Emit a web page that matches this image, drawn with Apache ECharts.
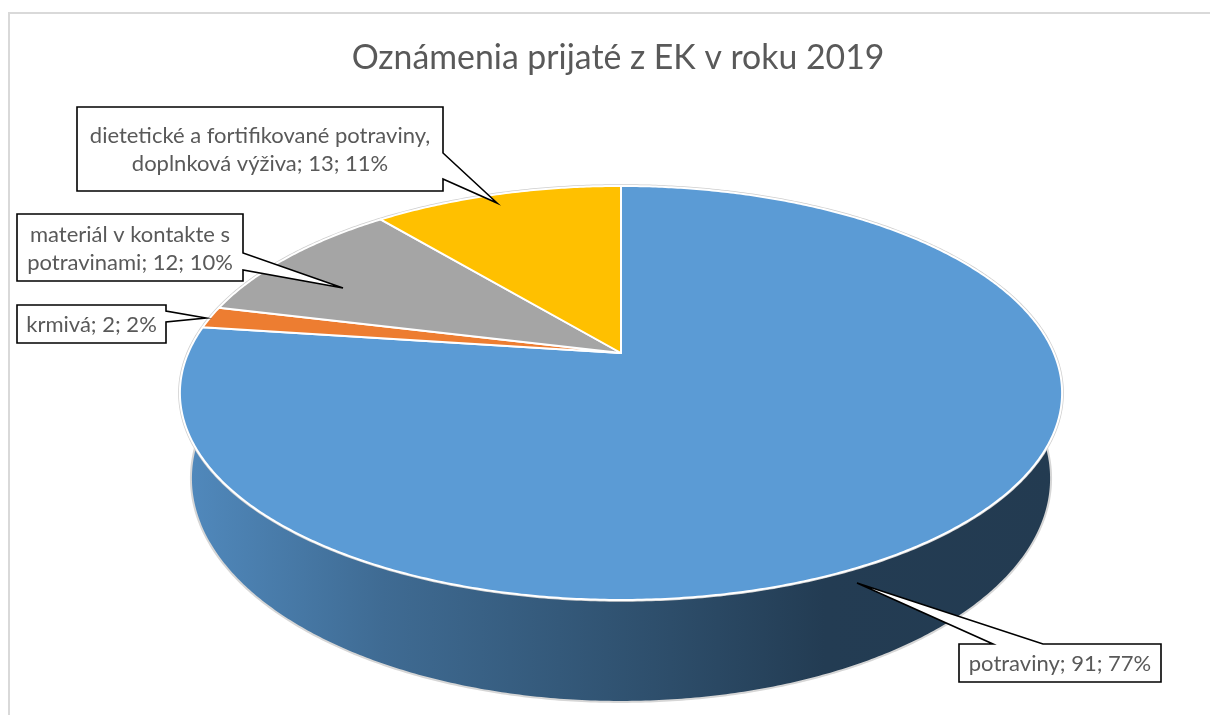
<!DOCTYPE html>
<html>
<head>
<meta charset="utf-8">
<title>Oznámenia prijaté z EK v roku 2019</title>
<script src="https://cdn.jsdelivr.net/npm/echarts@6/dist/echarts.min.js"></script>
<style>
  html, body { margin: 0; padding: 0; background: #ffffff; }
  #chart { width: 1210px; height: 715px; }
</style>
</head>
<body>
<div id="chart"></div>
<script>
// ---- data ----
const titleText = 'Oznámenia prijaté z EK v roku 2019';
const categories = [
  'potraviny',
  'krmivá',
  'materiál v kontakte s potravinami',
  'dietetické a fortifikované potraviny, doplnková výživa'
];
const counts = [91, 2, 12, 13];
const sliceColors = ['#5b9bd5', '#ed7d31', '#a5a5a5', '#ffc000'];

// ---- layout of the tilted pie (perspective disc) ----
const GEOM = {
  cx: 621, cy: 353,      // projected centre of the top face
  rx: 432.8, ry: 199.3,  // radii before perspective
  k: 0.193,              // perspective strength (far side shrinks)
  depth: 82.3,           // thickness of the disc
  bottomScale: 0.975     // lower rim is slightly narrower
};
const FONT_FAMILY = 'Lato, "Open Sans", sans-serif';
const LABEL_SIZE = 22;
const TEXT_COLOR = '#595959';

// callout boxes: [x, y, w, h], the edge the pointer leaves from, its two
// base positions along that edge and the pointer tip
const CALLOUTS = [
  { box: [959, 644, 202, 38], edge: 'top',   base: [993, 1043], tip: [857, 583] },
  { box: [17, 305, 149, 38],  edge: 'right', base: [311, 322],  tip: [206, 318] },
  { box: [17, 214, 226, 67],  edge: 'right', base: [253, 270],  tip: [343, 288] },
  { box: [77, 107, 366, 84],  edge: 'right', base: [153, 179],  tip: [497, 203] }
];

// side-wall shading along x (fraction of pie width -> brightness factor)
const SIDE_SHADE = [[0, 0.89], [0.23, 0.69], [0.43, 0.575], [0.61, 0.465], [0.73, 0.39], [1, 0.38]];

// ---- derived values ----
const total = counts.reduce((a, b) => a + b, 0);
const startAngles = [];
const endAngles = [];
(function () {
  let acc = 0;
  counts.forEach(v => {
    startAngles.push(acc / total * 360);
    acc += v;
    endAngles.push(acc / total * 360);
  });
})();

function project(alphaDeg, r, lower) {
  const a = alphaDeg * Math.PI / 180;
  const u = r * Math.sin(a);
  const v = r * Math.cos(a);
  const w = 1 + GEOM.k * v;
  let x = GEOM.cx + GEOM.rx * u / w;
  let y = GEOM.cy - GEOM.ry * v / w;
  if (lower) {
    x = GEOM.cx + (x - GEOM.cx) * GEOM.bottomScale;
    y += GEOM.depth / w;
  }
  return [x, y];
}

function arcPoints(a0, a1, lower) {
  const n = Math.max(2, Math.ceil((a1 - a0) / 0.5));
  const pts = [];
  for (let i = 0; i <= n; i++) pts.push(project(a0 + (a1 - a0) * i / n, 1, lower));
  return pts;
}

function shade(hex, f) {
  const n = parseInt(hex.slice(1), 16);
  const r = Math.round(((n >> 16) & 255) * f);
  const g = Math.round(((n >> 8) & 255) * f);
  const b = Math.round((n & 255) * f);
  return 'rgb(' + r + ',' + g + ',' + b + ')';
}

function sideFill(hex) {
  const left = GEOM.cx - GEOM.rx * 1.02;
  const right = GEOM.cx + GEOM.rx * 1.02;
  return {
    type: 'linear', global: true,
    x: left, y: 0, x2: right, y2: 0,
    colorStops: SIDE_SHADE.map(s => ({ offset: s[0], color: shade(hex, s[1]) }))
  };
}

function calloutPolygon(c) {
  const [x, y, w, h] = c.box;
  const pts = [[x, y]];
  if (c.edge === 'top') pts.push([c.base[0], y], c.tip, [c.base[1], y]);
  pts.push([x + w, y]);
  if (c.edge === 'right') pts.push([x + w, c.base[0]], c.tip, [x + w, c.base[1]]);
  pts.push([x + w, y + h], [x, y + h]);
  return pts;
}

// greedy word wrap so lines break only between words
const measureCtx = document.createElement('canvas').getContext('2d');
function wrapWords(text, maxWidth) {
  measureCtx.font = LABEL_SIZE + 'px ' + FONT_FAMILY;
  const words = text.split(' ');
  const lines = [];
  let line = '';
  words.forEach(word => {
    const trial = line ? line + ' ' + word : word;
    if (line && measureCtx.measureText(trial).width > maxWidth) {
      lines.push(line);
      line = word;
    } else {
      line = trial;
    }
  });
  if (line) lines.push(line);
  return lines.join('\n');
}

const seriesData = categories.map((name, i) => ({ name: name, value: counts[i] }));

// visible front range of the rim
const FRONT = [70, 290];

const option = {
  animation: false,
  backgroundColor: '#ffffff',
  title: {
    text: titleText,
    left: 613,
    top: 36,
    textAlign: 'center',
    textStyle: { fontFamily: FONT_FAMILY, fontSize: 33.8, fontWeight: 'normal', color: TEXT_COLOR }
  },
  graphic: [{
    type: 'rect',
    shape: { x: 9, y: 13, width: 1220, height: 720 },
    style: { fill: 'none', stroke: '#d9d9d9', lineWidth: 2 },
    silent: true
  }],
  series: [
    {
      // outer rim of each slice
      type: 'custom', name: 'side', coordinateSystem: 'none', z: 1,
      data: seriesData,
      renderItem: function (params, api) {
        const i = params.dataIndex;
        const a0 = Math.max(startAngles[i], FRONT[0]);
        const a1 = Math.min(endAngles[i], FRONT[1]);
        if (a1 <= a0) return { type: 'group', children: [] };
        const top = arcPoints(a0, a1, false);
        const bottom = arcPoints(a0, a1, true).reverse();
        return {
          type: 'polygon',
          shape: { points: top.concat(bottom) },
          style: { fill: sideFill(sliceColors[i]), stroke: '#d6d6d6', lineWidth: 2, lineJoin: 'round' }
        };
      }
    },
    {
      // top face of each slice
      type: 'custom', name: 'top', coordinateSystem: 'none', z: 2,
      data: seriesData,
      renderItem: function (params, api) {
        const i = params.dataIndex;
        const arc = arcPoints(startAngles[i], endAngles[i], false);
        return {
          type: 'group',
          children: [
            {
              type: 'polyline', z2: 0,
              shape: { points: arc },
              style: { fill: 'none', stroke: '#cfcfcf', lineWidth: 3.5 }
            },
            {
              type: 'polygon', z2: 1,
              shape: { points: [[GEOM.cx, GEOM.cy]].concat(arc) },
              style: { fill: sliceColors[i], stroke: '#ffffff', lineWidth: 2, lineJoin: 'round' }
            }
          ]
        };
      }
    },
    {
      // data labels in callout boxes
      type: 'custom', name: 'labels', coordinateSystem: 'none', z: 3,
      data: seriesData,
      renderItem: function (params, api) {
        const i = params.dataIndex;
        const c = CALLOUTS[i];
        const pct = Math.round(api.value(0) / total * 100);
        const [x, y, w, h] = c.box;
        const text = wrapWords(categories[i] + '; ' + api.value(0) + '; ' + pct + '%', w - 10);
        return {
          type: 'group',
          children: [
            {
              type: 'polygon',
              shape: { points: calloutPolygon(c) },
              style: { fill: '#ffffff', stroke: '#000000', lineWidth: 1.6, lineJoin: 'miter' }
            },
            {
              type: 'text',
              x: x + w / 2, y: y + h / 2 + 1,
              style: {
                text: text,
                align: 'center', verticalAlign: 'middle',
                fontFamily: FONT_FAMILY, fontSize: LABEL_SIZE, lineHeight: 28,
                fill: TEXT_COLOR
              }
            }
          ]
        };
      }
    }
  ]
};

const chart = echarts.init(document.getElementById('chart'), null, { renderer: 'canvas' });
chart.setOption(option);
</script>
</body>
</html>
